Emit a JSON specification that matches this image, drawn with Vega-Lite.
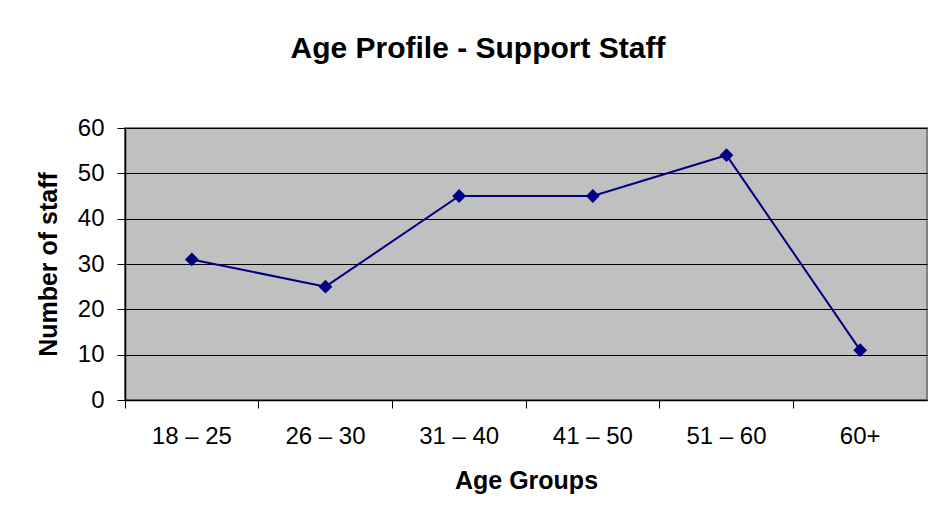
{
  "$schema": "https://vega.github.io/schema/vega-lite/v6.json",
  "width": 802,
  "height": 272,
  "autosize": "none",
  "padding": {"left": 125, "top": 128, "right": 6, "bottom": 119},
  "background": "white",
  "title": {
    "text": "Age Profile - Support Staff",
    "font": "Liberation Sans",
    "fontSize": 30,
    "fontWeight": "bold",
    "color": "black",
    "anchor": "middle",
    "frame": "group",
    "dx": -48,
    "offset": 52
  },
  "data": {
    "values": [
      {"group": "18 – 25", "staff": 31},
      {"group": "26 – 30", "staff": 25},
      {"group": "31 – 40", "staff": 45},
      {"group": "41 – 50", "staff": 45},
      {"group": "51 – 60", "staff": 54},
      {"group": "60+", "staff": 11}
    ]
  },
  "mark": {"type": "line", "color": "#000080", "strokeWidth": 2, "point": {"shape": "diamond", "size": 190, "filled": true, "color": "#000080", "opacity": 1}},
  "encoding": {
    "x": {
      "field": "group", "type": "nominal", "sort": null,
      "scale": {"type": "band", "paddingInner": 0, "paddingOuter": 0},
      "axis": {
        "title": "Age Groups", "labelAngle": 0, "bandPosition": 0,
        "labelFont": "Liberation Sans", "labelFontSize": 24, "labelColor": "black", "labelPadding": 16,
        "titleFont": "Liberation Sans", "titleFontSize": 25, "titleFontWeight": "bold", "titleColor": "black", "titlePadding": 20,
        "domainColor": "black", "domainWidth": 1.5, "tickColor": "black", "tickSize": 8, "grid": false
      }
    },
    "y": {
      "field": "staff", "type": "quantitative",
      "scale": {"domain": [0, 60], "nice": false},
      "axis": {
        "title": "Number of staff", "values": [0, 10, 20, 30, 40, 50, 60],
        "labelFont": "Liberation Sans", "labelFontSize": 24, "labelColor": "black", "labelPadding": 13,
        "titleFont": "Liberation Sans", "titleFontSize": 25, "titleFontWeight": "bold", "titleColor": "black", "titlePadding": 16,
        "domainColor": "black", "domainWidth": 1.5, "tickColor": "black", "tickSize": 8,
        "grid": true, "gridColor": "black", "gridOpacity": 1, "gridWidth": 1
      }
    }
  },
  "config": {
    "view": {"fill": "#C0C0C0", "stroke": "#808080", "strokeWidth": 2}
  }
}
